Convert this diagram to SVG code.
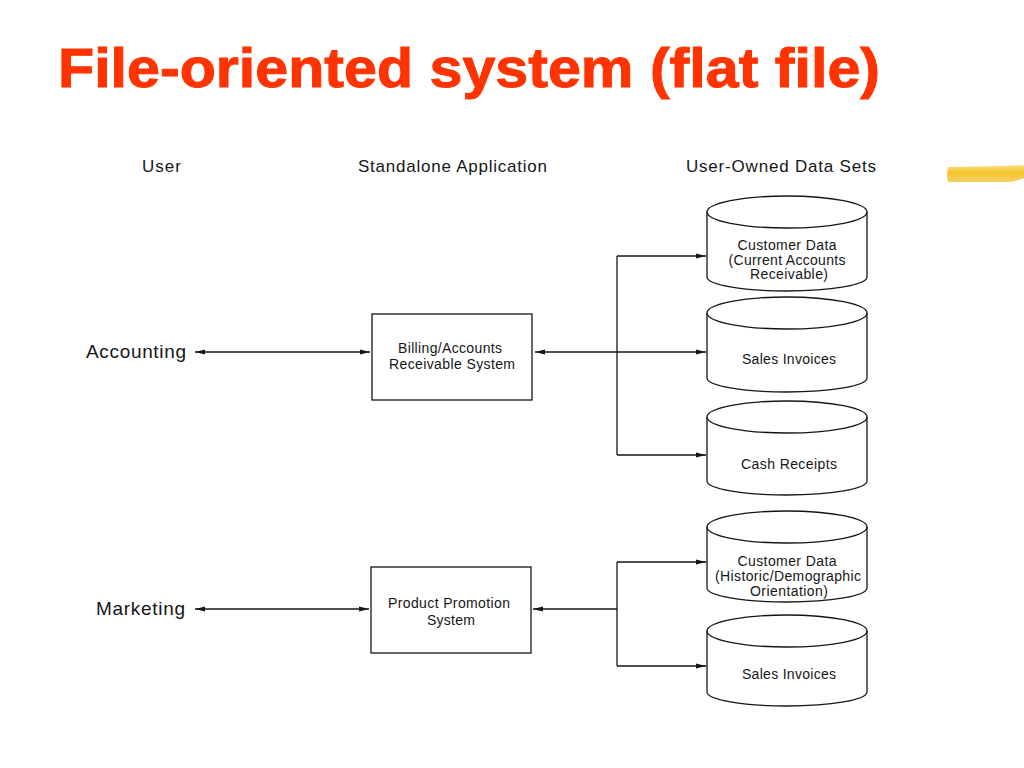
<svg xmlns="http://www.w3.org/2000/svg" width="1024" height="768" viewBox="0 0 1024 768">
<defs>
<style>
.t{font-family:"Liberation Sans",Arial,Helvetica,sans-serif;fill:#161616}
.h{font-size:17px}
.u{font-size:19px}
.s{font-size:14px;text-anchor:middle}
.ln{stroke:#161616;stroke-width:1.3;fill:none}
.box{fill:#fff;stroke:#161616;stroke-width:1.3}
.cyl{fill:#fff;stroke:#161616;stroke-width:1.3}
</style>
<marker id="arr" markerUnits="userSpaceOnUse" markerWidth="11" markerHeight="6" refX="10" refY="3" orient="auto-start-reverse">
<path d="M0,0.5 L10,3 L0,5.5 z" fill="#161616"/>
</marker>
<linearGradient id="yel" x1="0" y1="0" x2="0" y2="1">
<stop offset="0" stop-color="#FADF86"/>
<stop offset="0.45" stop-color="#F6C52C"/>
<stop offset="1" stop-color="#F4D068"/>
</linearGradient>
</defs>
<rect width="1024" height="768" fill="#fff"/>
<text x="58" y="87" font-family="'Liberation Sans',Arial,Helvetica,sans-serif" font-size="56" font-weight="bold" fill="#FF3300" stroke="#FF3300" stroke-width="1" textLength="822" lengthAdjust="spacingAndGlyphs">File-oriented system (flat file)</text>
<path d="M948,167 L1000,166 L1024,165 L1024,178 L1012,182 L948,182 L947,175 Z" fill="url(#yel)"/>
<g id="headers">
<text class="t h" x="142" y="172" textLength="39">User</text>
<text class="t h" x="358" y="172" textLength="189">Standalone Application</text>
<text class="t h" x="686" y="172" textLength="190">User-Owned Data Sets</text>
</g>
<g id="connectors">
<line class="ln" x1="195" y1="352" x2="370" y2="352" marker-start="url(#arr)" marker-end="url(#arr)"/>
<line class="ln" x1="535" y1="352" x2="706" y2="352" marker-start="url(#arr)" marker-end="url(#arr)"/>
<line class="ln" x1="617" y1="256" x2="617" y2="455"/>
<line class="ln" x1="617" y1="256" x2="706" y2="256" marker-end="url(#arr)"/>
<line class="ln" x1="617" y1="455" x2="706" y2="455" marker-end="url(#arr)"/>
<line class="ln" x1="195" y1="609" x2="369" y2="609" marker-start="url(#arr)" marker-end="url(#arr)"/>
<line class="ln" x1="617" y1="609" x2="533" y2="609" marker-end="url(#arr)"/>
<line class="ln" x1="617" y1="562" x2="617" y2="666"/>
<line class="ln" x1="617" y1="562" x2="706" y2="562" marker-end="url(#arr)"/>
<line class="ln" x1="617" y1="666" x2="706" y2="666" marker-end="url(#arr)"/>
</g>
<g id="accounting"><text class="t u" x="86" y="358" textLength="100">Accounting</text></g>
<g id="marketing"><text class="t u" x="96" y="615" textLength="89">Marketing</text></g>
<g id="billing">
<rect class="box" x="372" y="314" width="160" height="86"/>
<text class="t s" x="450" y="353" textLength="104">Billing/Accounts</text>
<text class="t s" x="452" y="369" textLength="126">Receivable System</text>
</g>
<g id="promotion">
<rect class="box" x="371" y="567" width="160" height="86"/>
<text class="t s" x="449" y="608" textLength="122">Product Promotion</text>
<text class="t s" x="451" y="625" textLength="48">System</text>
</g>
<g id="cyl-customer-current">
<path class="cyl" d="M707,212 A80,16 0 0 1 867,212 V277 A80,14 0 0 1 707,277 Z"/>
<path class="ln" d="M707,212 A80,16 0 0 0 867,212"/>
<text class="t s" x="787" y="250" textLength="99">Customer Data</text>
<text class="t s" x="787" y="265" textLength="117">(Current Accounts</text>
<text class="t s" x="789" y="279" textLength="78">Receivable)</text>
</g>
<g id="cyl-sales1">
<path class="cyl" d="M707,313 A80,16 0 0 1 867,313 V378 A80,14 0 0 1 707,378 Z"/>
<path class="ln" d="M707,313 A80,16 0 0 0 867,313"/>
<text class="t s" x="789" y="364" textLength="94">Sales Invoices</text>
</g>
<g id="cyl-cash">
<path class="cyl" d="M707,417 A80,16 0 0 1 867,417 V481 A80,14 0 0 1 707,481 Z"/>
<path class="ln" d="M707,417 A80,16 0 0 0 867,417"/>
<text class="t s" x="789" y="469" textLength="96">Cash Receipts</text>
</g>
<g id="cyl-customer-historic">
<path class="cyl" d="M707,527 A80,16 0 0 1 867,527 V588 A80,14 0 0 1 707,588 Z"/>
<path class="ln" d="M707,527 A80,16 0 0 0 867,527"/>
<text class="t s" x="787" y="566" textLength="99">Customer Data</text>
<text class="t s" x="788" y="581" textLength="146">(Historic/Demographic</text>
<text class="t s" x="789" y="596" textLength="78">Orientation)</text>
</g>
<g id="cyl-sales2">
<path class="cyl" d="M707,631 A80,16 0 0 1 867,631 V692 A80,14 0 0 1 707,692 Z"/>
<path class="ln" d="M707,631 A80,16 0 0 0 867,631"/>
<text class="t s" x="789" y="679" textLength="94">Sales Invoices</text>
</g>
</svg>
